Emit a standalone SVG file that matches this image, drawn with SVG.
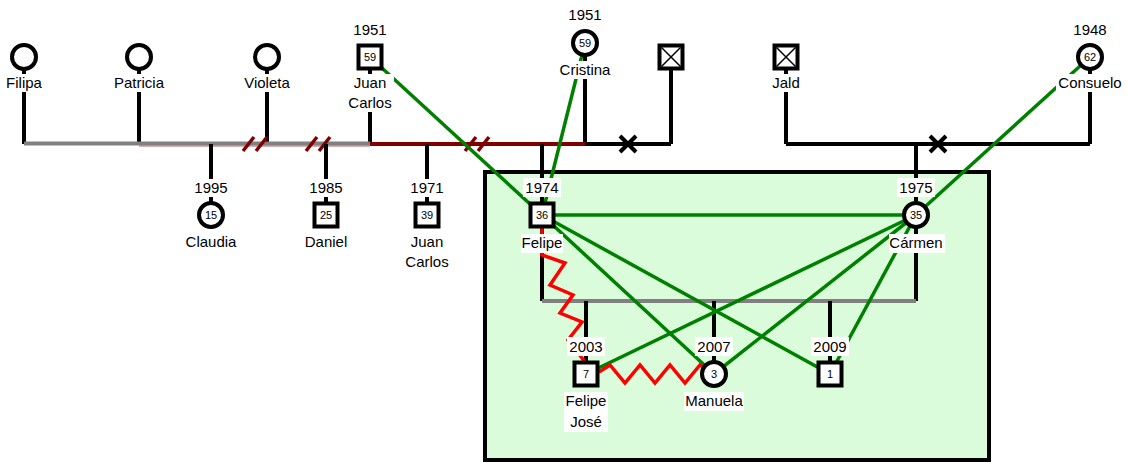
<svg xmlns="http://www.w3.org/2000/svg" width="1128" height="462" viewBox="0 0 1128 462">
<style>
text{font-family:"Liberation Sans",Arial,sans-serif;fill:#000}
.lb{font-size:15px;text-anchor:middle}
.nm{font-size:11px;text-anchor:middle}
.bg{fill:#fff}
.blk{stroke:#000;stroke-width:4;fill:none}
.gry{stroke:#808080;stroke-width:4;fill:none}
.drd{stroke:#800000;stroke-width:4;fill:none}
.grn{stroke:#008000;stroke-width:3.5;fill:none}
.red{stroke:#ff0000;stroke-width:3.5;fill:none;stroke-linejoin:miter}
.div{stroke:#800000;stroke-width:3.5;fill:none}
.sh{fill:#fff;stroke:#000;stroke-width:4}
.thin{stroke:#000;stroke-width:1.5;fill:none}
</style>
<defs>
<g id="divmark"><line x1="-12" y1="7" x2="-1" y2="-7"/><line x1="1" y1="7" x2="12" y2="-7"/></g>
<g id="xmark"><line x1="-8" y1="-8" x2="8" y2="8"/><line x1="-8" y1="8" x2="8" y2="-8"/></g>
</defs>
<rect id="household" x="485" y="172" width="504" height="288" fill="#dafcda" stroke="#000" stroke-width="4"/>
<g id="connectors">
<path class="blk" d="M24,57V144M139,57V144M267,57V144M370,57V144M585,43V144M671,57V144M786,57V144M1090,57V144"/>
<line stroke="#b06060" stroke-width="1" x1="139" y1="146" x2="370" y2="146"/>
<line class="gry" x1="24" y1="143.5" x2="370" y2="143.5"/>
<line class="drd" x1="370" y1="144" x2="585" y2="144"/>
<path class="blk" d="M585,144H671M786,144H1090"/>
<g class="div"><use href="#divmark" x="255" y="144"/><use href="#divmark" x="318" y="144"/><use href="#divmark" x="477" y="144"/></g>
<g class="blk" stroke-width="4.5"><use href="#xmark" x="628" y="144"/><use href="#xmark" x="938" y="144"/></g>
<path class="blk" d="M211,144V215M326,144V215M427,144V215M542,144V301M916,144V301"/>
<line class="gry" x1="542" y1="301" x2="916" y2="301"/>
<path class="blk" d="M586,301V374M714,301V374M830,301V374"/>
<g class="grn">
<line x1="370" y1="57" x2="542" y2="215"/>
<line x1="585" y1="43" x2="542" y2="215"/>
<line x1="1090" y1="57" x2="916" y2="215"/>
<line x1="542" y1="215" x2="916" y2="215"/>
<line x1="542" y1="215" x2="714" y2="374"/>
<line x1="542" y1="215" x2="830" y2="374"/>
<line x1="916" y1="215" x2="586" y2="374"/>
<line x1="916" y1="215" x2="714" y2="374"/>
<line x1="916" y1="215" x2="830" y2="374"/>
</g>
<path class="red" d="M542,228L542,255L565,263L550,285L573,295L560,313L582,322L568,340L589,367"/>
<path class="red" d="M599,372L610,365L625,383L640,365L655,383L670,365L685,383L700,365L712,372"/>
</g>
<g id="filipa"><circle class="sh" cx="24" cy="57" r="12"/><rect class="bg" x="4" y="74" width="40" height="18"/><text class="lb" x="24" y="88">Filipa</text></g>
<g id="patricia"><circle class="sh" cx="139" cy="57" r="12"/><rect class="bg" x="112" y="74" width="54" height="18"/><text class="lb" x="139" y="88">Patricia</text></g>
<g id="violeta"><circle class="sh" cx="267" cy="57" r="12"/><rect class="bg" x="242" y="74" width="50" height="18"/><text class="lb" x="267" y="88">Violeta</text></g>
<g id="juancarlos1951"><rect class="bg" x="351" y="21" width="38" height="18"/><text class="lb" x="370" y="35">1951</text><rect class="sh" x="358.5" y="45.5" width="23" height="23"/><text class="nm" x="370" y="61">59</text><rect class="bg" x="346" y="74" width="48" height="38"/><text class="lb" x="370" y="88">Juan</text><text class="lb" x="370" y="108">Carlos</text></g>
<g id="cristina"><rect class="bg" x="566" y="6" width="38" height="18"/><text class="lb" x="585" y="20">1951</text><circle class="sh" cx="585" cy="43" r="12"/><text class="nm" x="585" y="47">59</text><rect class="bg" x="557" y="61" width="56" height="18"/><text class="lb" x="585" y="75">Cristina</text></g>
<g id="deceased1"><rect class="sh" x="659.5" y="45.5" width="23" height="23"/><path class="thin" d="M661.5,47.5L680.5,66.5M680.5,47.5L661.5,66.5"/></g>
<g id="jald"><rect class="sh" x="774.5" y="45.5" width="23" height="23"/><path class="thin" d="M776.5,47.5L795.5,66.5M795.5,47.5L776.5,66.5"/><rect class="bg" x="770" y="74" width="32" height="18"/><text class="lb" x="786" y="88">Jald</text></g>
<g id="consuelo"><rect class="bg" x="1071" y="21" width="38" height="18"/><text class="lb" x="1090" y="35">1948</text><circle class="sh" cx="1090" cy="57" r="12"/><text class="nm" x="1090" y="61">62</text><rect class="bg" x="1056" y="74" width="68" height="18"/><text class="lb" x="1090" y="88">Consuelo</text></g>
<g id="claudia"><rect class="bg" x="192" y="179" width="38" height="18"/><text class="lb" x="211" y="193">1995</text><circle class="sh" cx="211" cy="215" r="12"/><text class="nm" x="211" y="219">15</text><rect class="bg" x="184" y="233" width="54" height="18"/><text class="lb" x="211" y="247">Claudia</text></g>
<g id="daniel"><rect class="bg" x="307" y="179" width="38" height="18"/><text class="lb" x="326" y="193">1985</text><rect class="sh" x="314.5" y="203.5" width="23" height="23"/><text class="nm" x="326" y="219">25</text><rect class="bg" x="303" y="233" width="46" height="18"/><text class="lb" x="326" y="247">Daniel</text></g>
<g id="juancarlos1971"><rect class="bg" x="408" y="179" width="38" height="18"/><text class="lb" x="427" y="193">1971</text><rect class="sh" x="415.5" y="203.5" width="23" height="23"/><text class="nm" x="427" y="219">39</text><rect class="bg" x="403" y="233" width="48" height="38"/><text class="lb" x="427" y="247">Juan</text><text class="lb" x="427" y="267">Carlos</text></g>
<g id="felipe"><rect class="bg" x="523" y="178" width="38" height="19"/><text class="lb" x="542" y="193">1974</text><rect class="sh" x="530.5" y="203.5" width="23" height="23"/><text class="nm" x="542" y="219">36</text><rect class="bg" x="521" y="234" width="42" height="19"/><text class="lb" x="542" y="248">Felipe</text></g>
<g id="carmen"><rect class="bg" x="897" y="178" width="38" height="19"/><text class="lb" x="916" y="193">1975</text><circle class="sh" cx="916" cy="215" r="12"/><text class="nm" x="916" y="219">35</text><rect class="bg" x="889" y="234" width="56" height="19"/><text class="lb" x="916" y="248">Cármen</text></g>
<g id="felipejose"><rect class="bg" x="567" y="337" width="38" height="19"/><text class="lb" x="586" y="352">2003</text><rect class="sh" x="574.5" y="362.5" width="23" height="23"/><text class="nm" x="586" y="378">7</text><rect class="bg" x="564" y="392" width="44" height="40"/><text class="lb" x="586" y="406">Felipe</text><text class="lb" x="586" y="427">José</text></g>
<g id="manuela"><rect class="bg" x="695" y="337" width="38" height="19"/><text class="lb" x="714" y="352">2007</text><circle class="sh" cx="714" cy="374" r="12"/><text class="nm" x="714" y="378">3</text><rect class="bg" x="684" y="392" width="60" height="19"/><text class="lb" x="714" y="406">Manuela</text></g>
<g id="child2009"><rect class="bg" x="811" y="337" width="38" height="19"/><text class="lb" x="830" y="352">2009</text><rect class="sh" x="818.5" y="362.5" width="23" height="23"/><text class="nm" x="830" y="378">1</text></g>
</svg>
